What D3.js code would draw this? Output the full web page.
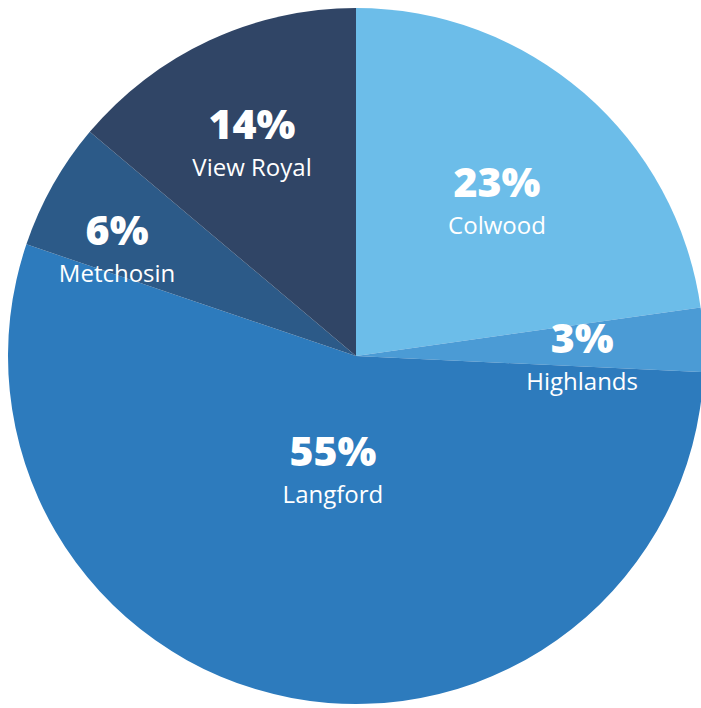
<!DOCTYPE html>
<html>
<head>
<meta charset="utf-8">
<script src="https://cdn.jsdelivr.net/npm/d3@7"></script>
<style>
  html, body { margin: 0; padding: 0; background: #ffffff; }
  svg { display: block; }
</style>
</head>
<body>
<div id="chart"></div>
<script>
// Data (clockwise from 12 o'clock)
const categories = ["Colwood", "Highlands", "Langford", "Metchosin", "View Royal"];
const values = [23, 3, 55, 6, 14];
const percentLabels = ["23%", "3%", "55%", "6%", "14%"];
const colors = ["#6cbde9", "#4b9bd5", "#2d7bbd", "#2c5a88", "#304566"];

const width = 701, height = 708;
const cx = 356, cy = 356, R = 348;
// label placement (layout only): distance as fraction of radius, angular nudge in degrees
const labelRadiusFrac = [0.575, 0.651, 0.371, 0.738, 0.648];
const labelAngleShift = [3.8, 6.2, -0.4, -7.9, -2.5];

const svg = d3.select("#chart").append("svg")
  .attr("width", width).attr("height", height);

const g = svg.append("g").attr("transform", `translate(${cx},${cy})`);

const data = categories.map((c, i) => ({ name: c, value: values[i], label: percentLabels[i], color: colors[i], i }));

const pie = d3.pie().value(d => d.value).sort(null);
const arc = d3.arc().innerRadius(0).outerRadius(R);
const arcs = pie(data);

g.selectAll("path.slice").data(arcs).enter().append("path")
  .attr("class", "slice")
  .attr("d", arc)
  .attr("fill", d => d.data.color);

const labels = g.selectAll("g.lbl").data(arcs).enter().append("g")
  .attr("class", "lbl")
  .attr("transform", d => {
    const i = d.data.i;
    const r = R * labelRadiusFrac[i];
    const a = (d.startAngle + d.endAngle) / 2 + labelAngleShift[i] * Math.PI / 180;
    return `translate(${r * Math.sin(a)},${-r * Math.cos(a)})`;
  });

labels.append("text")
  .attr("text-anchor", "middle")
  .attr("y", -17)
  .style("font-family", "'Open Sans', 'Noto Sans', sans-serif")
  .style("font-weight", "800")
  .style("font-size", "41px")
  .attr("fill", "#ffffff")
  .text(d => d.data.label);

labels.append("text")
  .attr("text-anchor", "middle")
  .attr("y", 20)
  .style("font-family", "'Open Sans', 'Noto Sans', sans-serif")
  .style("font-weight", "400")
  .style("font-size", "24px")
  .attr("fill", "#ffffff")
  .text(d => d.data.name);
</script>
</body>
</html>
